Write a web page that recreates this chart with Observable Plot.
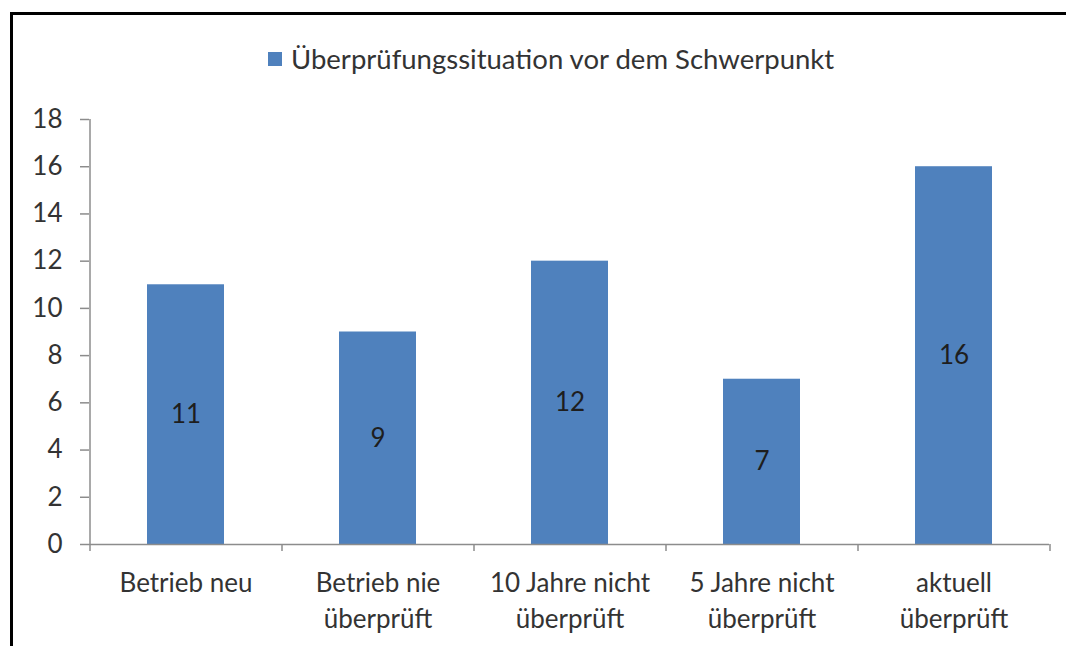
<!DOCTYPE html>
<html>
<head>
<meta charset="utf-8">
<script src="https://cdn.jsdelivr.net/npm/d3@7"></script>
<script src="https://cdn.jsdelivr.net/npm/@observablehq/plot@0.6"></script>
<style>
  body { margin: 0; background: #fff; }
  #wrap { position: relative; width: 1066px; height: 646px; overflow: hidden; font-family: Lato, "Open Sans", sans-serif; background: #fff; }
  #border { position: absolute; left: 10px; top: 12px; width: 1200px; height: 800px; border: 3px solid #000; border-right: none; border-bottom: none; }
  #legend { position: absolute; top: 42px; left: 268px; display: flex; align-items: center; font-size: 27.5px; color: #333; white-space: nowrap; }
  #legend .sw { width: 14px; height: 14px; background: #4F81BD; margin-right: 9px; }
  #chart { position: absolute; left: 0; top: 0; }
</style>
</head>
<body>
<div id="wrap">
  <div id="border"></div>
  <div id="chart"></div>
  <div id="legend"><span class="sw"></span><span id="legendText"></span></div>
</div>
<script>
const seriesName = "Überprüfungssituation vor dem Schwerpunkt";
const categories = ["Betrieb neu", "Betrieb nie\nüberprüft", "10 Jahre nicht\nüberprüft", "5 Jahre nicht\nüberprüft", "aktuell\nüberprüft"];
const values = [11, 9, 12, 7, 16];
const yTicks = [0, 2, 4, 6, 8, 10, 12, 14, 16, 18];

const data = categories.map((c, i) => ({category: c, value: values[i]}));

const W = 1066, H = 646;
const mL = 89, mR = 17, mT = 119, mB = 102;
const step = (W - mL - mR) / categories.length;
const axisColor = "#8c8c8c";
const textColor = "#333";
const barColor = "#4F81BD";

document.getElementById("legendText").textContent = seriesName;

const chart = Plot.plot({
  width: W,
  height: H,
  marginLeft: mL,
  marginRight: mR,
  marginTop: mT,
  marginBottom: mB,
  style: {fontFamily: "Lato, 'Open Sans', sans-serif", background: "transparent"},
  x: {domain: categories, paddingInner: 0.6, paddingOuter: 0.3},
  y: {domain: [0, 18]},
  marks: [
    Plot.barY(data, {x: "category", y: "value", fill: barColor}),
    Plot.text(data, {x: "category", y: d => d.value / 2, text: d => String(d.value), fontSize: 26, fill: "#1e1e1e"}),
    // x axis line
    Plot.ruleY([0], {stroke: axisColor, strokeWidth: 1.5}),
    // y axis line
    Plot.ruleX([categories[0]], {dx: -step / 2, y1: -0.3, y2: 18, stroke: axisColor, strokeWidth: 1.5}),
    // category boundary ticks
    Plot.ruleX(categories.slice(1), {dx: -step / 2, y1: 0, y2: -0.3, stroke: axisColor, strokeWidth: 1.5}),
    Plot.ruleX([categories[categories.length - 1]], {dx: step / 2, y1: 0, y2: -0.3, stroke: axisColor, strokeWidth: 1.5}),
    Plot.axisY({ticks: yTicks, tickSize: 9, tickPadding: 18, fontSize: 26, stroke: axisColor, fill: textColor, strokeWidth: 1.5, label: null}),
    Plot.axisX({tickSize: 0, tickPadding: 22, fontSize: 26, fill: textColor, lineHeight: 1.38, label: null})
  ]
});
document.getElementById("chart").appendChild(chart);
</script>
</body>
</html>
